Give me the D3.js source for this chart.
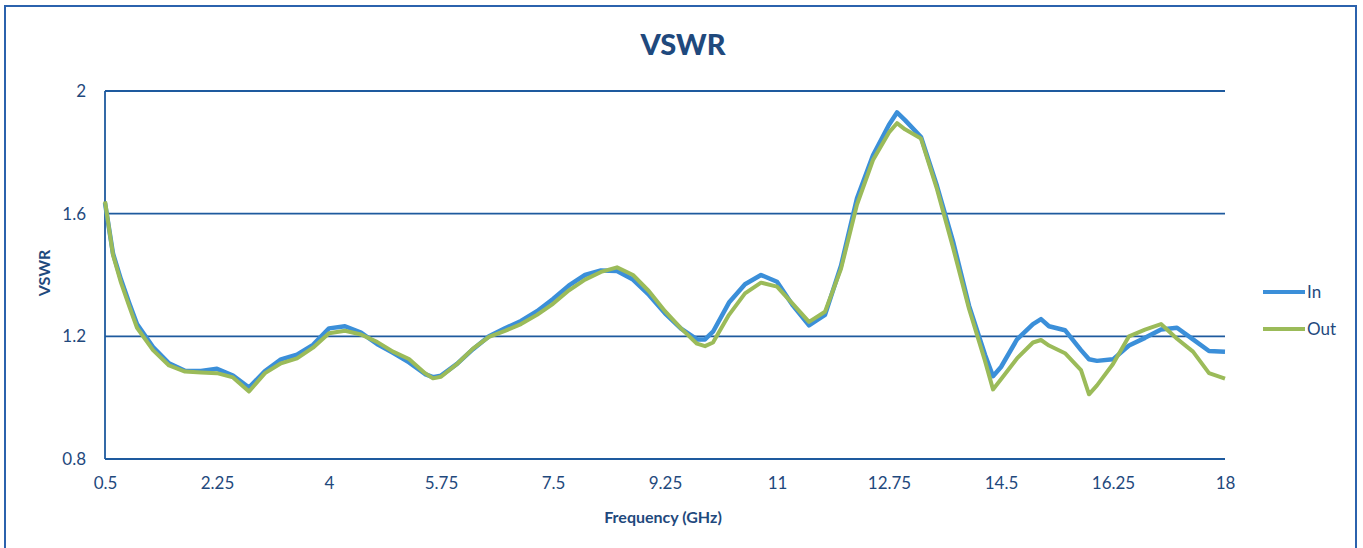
<!DOCTYPE html>
<meta charset="utf-8">
<style>
    body { margin: 0; background: #fff; }
    text { font-family: Lato, "Open Sans", sans-serif; fill: #1f497d; }
</style>
<body>
<script src="https://cdn.jsdelivr.net/npm/d3@7"></script>
<script>
    var freq = [0.5, 0.625, 0.75, 0.875, 1.0, 1.25, 1.5, 1.75, 2.0, 2.25, 2.5, 2.75, 3.0, 3.25, 3.5, 3.75,
        4.0, 4.25, 4.5, 4.75, 5.0, 5.25, 5.5, 5.625, 5.75, 6.0, 6.25, 6.5, 6.75, 7.0, 7.25, 7.5, 7.75,
        8.0, 8.25, 8.5, 8.75, 9.0, 9.25, 9.5, 9.75, 9.875, 10.0, 10.25, 10.5, 10.75, 11.0, 11.25, 11.5,
        11.75, 12.0, 12.25, 12.5, 12.75, 12.875, 13.0, 13.25, 13.5, 13.75, 14.0, 14.25, 14.375, 14.5,
        14.75, 15.0, 15.125, 15.25, 15.5, 15.75, 15.875, 16.0, 16.25, 16.5, 16.75, 17.0, 17.25, 17.5,
        17.75, 18.0]

    var vswrIn = [1.635, 1.47, 1.385, 1.31, 1.24, 1.165, 1.112, 1.088, 1.087, 1.094, 1.072, 1.033, 1.087,
        1.125, 1.14, 1.172, 1.226, 1.233, 1.212, 1.175, 1.146, 1.115, 1.077, 1.067, 1.072, 1.11, 1.158,
        1.2, 1.226, 1.25, 1.282, 1.322, 1.366, 1.4, 1.415, 1.413, 1.385, 1.335, 1.275, 1.225, 1.19, 1.19,
        1.215, 1.31, 1.37, 1.4, 1.378, 1.3, 1.236, 1.27, 1.43, 1.65, 1.79, 1.89, 1.93, 1.905, 1.85, 1.69,
        1.51, 1.3, 1.14, 1.07, 1.1, 1.19, 1.24, 1.256, 1.233, 1.22, 1.155, 1.125, 1.12, 1.125, 1.17,
        1.195, 1.222, 1.228, 1.19, 1.152, 1.15]

    var vswrOut = [1.64, 1.465, 1.375, 1.3, 1.228, 1.155, 1.105, 1.085, 1.082, 1.08, 1.066, 1.02, 1.08,
        1.112, 1.128, 1.163, 1.21, 1.218, 1.206, 1.182, 1.15, 1.126, 1.08, 1.063, 1.068, 1.11, 1.16,
        1.198, 1.218, 1.24, 1.27, 1.306, 1.35, 1.385, 1.41, 1.425, 1.4, 1.347, 1.282, 1.226, 1.176, 1.168,
        1.18, 1.27, 1.34, 1.375, 1.362, 1.305, 1.247, 1.28, 1.42, 1.63, 1.775, 1.865, 1.895, 1.875, 1.845,
        1.68, 1.49, 1.29, 1.12, 1.027, 1.06, 1.128, 1.18, 1.188, 1.17, 1.145, 1.09, 1.011, 1.04, 1.11,
        1.2, 1.222, 1.24, 1.192, 1.15, 1.08, 1.062]

    var xTicks = [0.5, 2.25, 4, 5.75, 7.5, 9.25, 11, 12.75, 14.5, 16.25, 18]
    var yTicks = [0.8, 1.2, 1.6, 2]
    var seriesNames = ["In", "Out"]
    var seriesColors = ["#3b8fd9", "#9bbb59"]

    var width = 1363,
        height = 548

    var svg = d3.select("body").append("svg")
        .attr("width", width)
        .attr("height", height)

    // outer chart border (bottom edge runs off the picture)
    svg.append("rect")
        .attr("x", 5).attr("y", 6)
        .attr("width", 1351).attr("height", 560)
        .attr("fill", "none")
        .attr("stroke", "#2b62ad")
        .attr("stroke-width", 2)

    var x = d3.scaleLinear().domain([0.5, 18]).range([105, 1225])
    var y = d3.scaleLinear().domain([0.8, 2]).range([459, 91])

    // gridlines + left axis line
    svg.selectAll(".grid")
        .data(yTicks)
        .enter().append("line")
        .attr("class", "grid")
        .attr("x1", x(0.5)).attr("x2", x(18))
        .attr("y1", function (d) { return y(d) })
        .attr("y2", function (d) { return y(d) })
        .attr("stroke", "#1e5a9e")
        .attr("stroke-width", 1.8)

    svg.append("line")
        .attr("x1", x(0.5)).attr("x2", x(0.5))
        .attr("y1", y(2)).attr("y2", y(0.8))
        .attr("stroke", "#1e5a9e")
        .attr("stroke-width", 1.8)

    var xAxis = svg.append("g")
        .attr("transform", "translate(0," + y(0.8) + ")")
        .call(d3.axisBottom(x).tickValues(xTicks).tickSize(0).tickPadding(18)
            .tickFormat(function (d) { return d }))
    xAxis.select(".domain").remove()
    xAxis.selectAll("text").style("font-size", "17px").attr("fill", "#1f497d")

    var yAxis = svg.append("g")
        .attr("transform", "translate(" + x(0.5) + ",0)")
        .call(d3.axisLeft(y).tickValues(yTicks).tickSize(0).tickPadding(19)
            .tickFormat(function (d) { return d }))
    yAxis.select(".domain").remove()
    yAxis.selectAll("text").style("font-size", "17px").attr("fill", "#1f497d")

    // lines
    var line = d3.line()
        .x(function (d) { return x(d[0]) })
        .y(function (d) { return y(d[1]) })

    var series = [vswrIn, vswrOut]
    series.forEach(function (vals, i) {
        svg.append("path")
            .datum(freq.map(function (f, j) { return [f, vals[j]] }))
            .attr("d", line)
            .attr("fill", "none")
            .attr("stroke", seriesColors[i])
            .attr("stroke-width", i == 0 ? 4.5 : 4)
            .attr("stroke-linejoin", "round")
    })

    // titles
    svg.append("text")
        .attr("x", 683).attr("y", 55)
        .attr("text-anchor", "middle")
        .style("font-size", "29px")
        .style("font-weight", "900")
        .text("VSWR")

    svg.append("text")
        .attr("transform", "translate(50," + 273 + ") rotate(-90)")
        .attr("text-anchor", "middle")
        .style("font-size", "16px")
        .style("font-weight", "bold")
        .text("VSWR")

    svg.append("text")
        .attr("x", 663).attr("y", 523)
        .attr("text-anchor", "middle")
        .style("font-size", "16px")
        .style("font-weight", "bold")
        .text("Frequency (GHz)")

    // legend
    var legend = svg.selectAll(".legend")
        .data(seriesNames)
        .enter().append("g")
        .attr("class", "legend")
        .attr("transform", function (d, i) { return "translate(1263," + (292 + i * 37) + ")" })

    legend.append("line")
        .attr("x1", 0).attr("x2", 42)
        .attr("stroke", function (d, i) { return seriesColors[i] })
        .attr("stroke-width", 4)

    legend.append("text")
        .attr("x", 44).attr("y", 6)
        .style("font-size", "17px")
        .text(function (d) { return d })
</script>
</body>
